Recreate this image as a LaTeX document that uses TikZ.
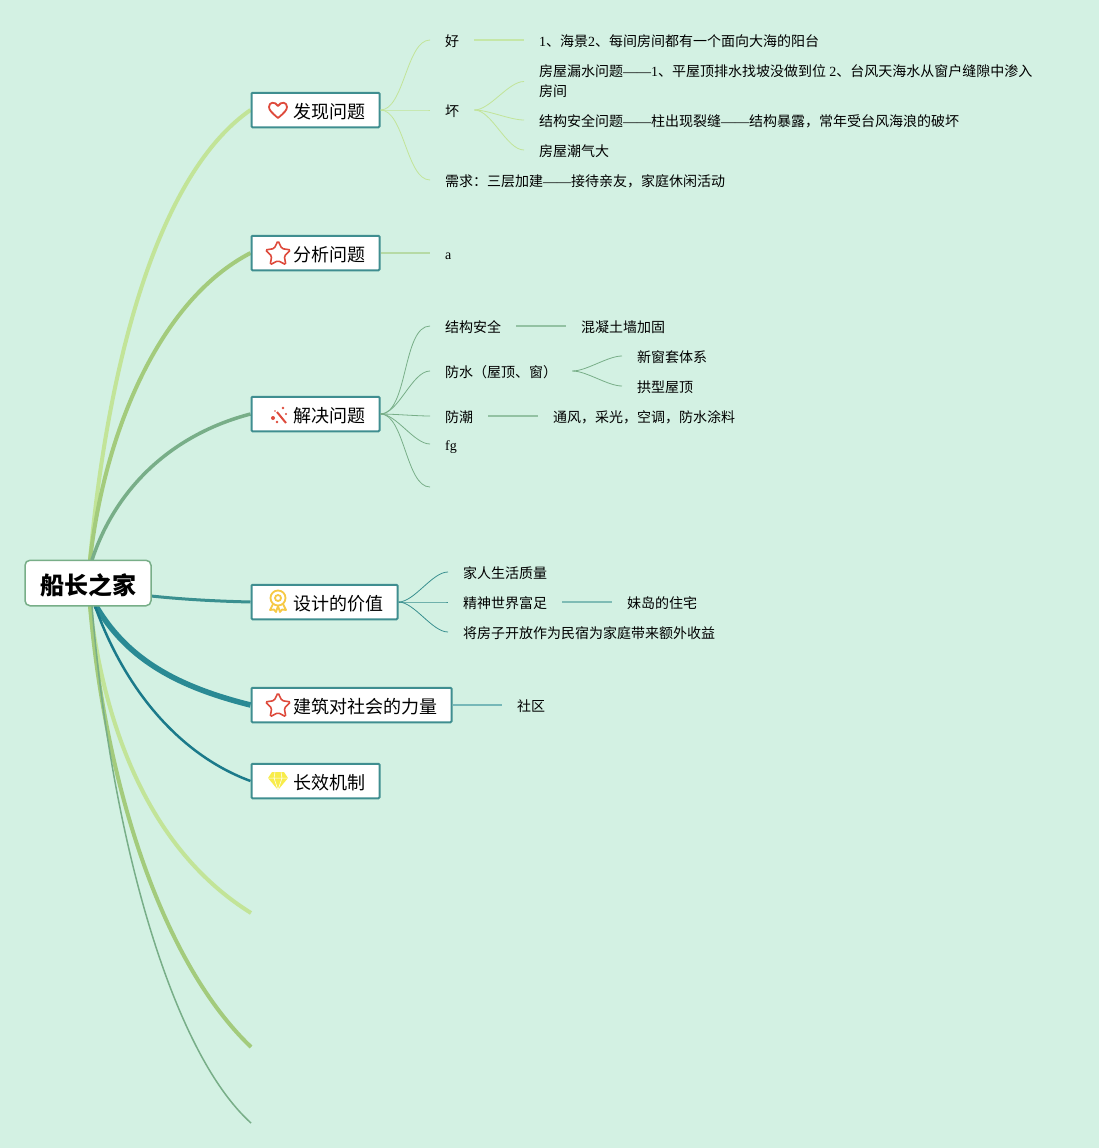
\documentclass[tikz,border=0pt]{standalone}
\usepackage{fontspec}
\setmainfont{Liberation Serif}
\newfontfamily\cjk{Noto Sans CJK SC}
\usetikzlibrary{shapes.geometric, backgrounds}
\definecolor{paper}{HTML}{D3F1E3}
\definecolor{edgeA}{HTML}{C2E498}
\definecolor{edgeB}{HTML}{A3CB7C}
\definecolor{edgeC}{HTML}{78AE88}
\definecolor{edgeD}{HTML}{3A9090}
\definecolor{edgeE}{HTML}{2A8A94}
\definecolor{edgeF}{HTML}{1B7A8A}
\definecolor{boxline}{HTML}{3F8E90}
\definecolor{iconred}{HTML}{DE4A3C}
\definecolor{icongold}{HTML}{F6C945}
\definecolor{icongem}{HTML}{F8EC4A}
\newcommand{\ltn}[1]{{\rmfamily #1}}
\newcommand{\topictext}[1]{\hspace*{27pt}#1}
\tikzset{
    rootbox/.style={draw=edgeC, line width=1.5pt, fill=white, rounded corners=5pt, minimum width=126pt, minimum height=45.5pt, inner sep=0pt, text height=23pt, text depth=1pt, font=\cjk\bfseries\fontsize{24}{28}\selectfont},
    topicbox/.style={draw=boxline, line width=2pt, fill=white, rounded corners=1pt, minimum height=34.5pt, inner sep=0pt, text height=18pt, text depth=1.4pt, font=\cjk\fontsize{18}{22}\selectfont},
    leaf/.style={anchor=west, inner xsep=15pt, inner ysep=0pt, text height=14.5pt, text depth=1pt, font=\cjk\fontsize{14}{20}\selectfont},
    fanline/.style={line width=0.8pt, looseness=0.7},
    starshape/.style={star, star points=5, star point ratio=2, draw=iconred, line width=1.6pt, rounded corners=1.5pt, minimum size=26.5pt, inner sep=0pt},
    heart/.pic={\draw[iconred, line width=1.8pt, line join=round] (0,8) .. controls (-6,3) and (-9,0) .. (-9,-3) .. controls (-9,-8) and (-3,-9) .. (0,-4) .. controls (3,-9) and (9,-8) .. (9,-3) .. controls (9,0) and (6,3) .. (0,8) -- cycle;},
    wand/.pic={\draw[iconred, line width=2pt] (-1,-3) -- (8,8);
        \fill[iconred] (5,-7) circle (1.4) (8,-1) circle (1.1) (-5,3) circle (2) (-1,7) circle (1.3) (-3,-4) circle (0.8);},
    medal/.pic={\draw[icongold, line width=1.8pt] (0,-3) circle (7.5) (0,-3) circle (3);
        \draw[icongold, line width=1.8pt, line join=round] (-5,3) -- (-8,9) -- (-4,8.5) -- (-2,11) -- (0,5) -- (2,11) -- (4,8.5) -- (8,9) -- (5,3);},
    gem/.pic={\fill[icongem] (-6,-9) -- (6,-9) -- (10,-3) -- (0,9) -- (-10,-3) -- cycle;
        \draw[white, line width=0.5pt] (-10,-3) -- (10,-3) (-3,-9) -- (-4,-3) -- (0,9) -- (4,-3) -- (3,-9);},
}
\begin{document}
\begin{tikzpicture}[x=1pt, y=-1pt]
    \useasboundingbox (0,0) rectangle (1099,1148);

    % main boxes
    \node[rootbox] (root) at (88,583) {船长之家};
    \node[topicbox, minimum width=128pt] (faxian) at (315.5,110) {\topictext{发现问题}};
    \node[topicbox, minimum width=128pt] (fenxi) at (315.5,253) {\topictext{分析问题}};
    \node[topicbox, minimum width=128pt] (jiejue) at (315.5,414) {\topictext{解决问题}};
    \node[topicbox, minimum width=146pt] (sheji) at (324.5,602) {\topictext{设计的价值}};
    \node[topicbox, minimum width=200pt] (jianzhu) at (351.5,705) {\topictext{建筑对社会的力量}};
    \node[topicbox, minimum width=128pt] (changxiao) at (315.5,781) {\topictext{长效机制}};

    % branches without a box
    \coordinate (looseA) at (251,913);
    \coordinate (looseB) at (251,1047);
    \coordinate (looseC) at (251,1123);

    % branches from the root
    \begin{scope}[on background layer]
    \fill[paper] (0,0) rectangle (1099,1148);
    \draw[edgeA, line width=4pt] (looseA) .. controls (150,850) and (105,730) .. (90,606);
    \draw[edgeB, line width=4pt] (looseB) .. controls (160,960) and (105,780) .. (90,606);
    \draw[edgeC, line width=1.5pt] (looseC) .. controls (170,1050) and (110,830) .. (92,606);
    \draw[edgeA, line width=4pt] (faxian.west) .. controls (150,180) and (105,390) .. (90,560);
    \draw[edgeB, line width=4pt] (fenxi.west) .. controls (160,300) and (105,430) .. (90,560);
    \draw[edgeC, line width=3.5pt] (jiejue.west) .. controls (170,435) and (115,490) .. (92,560);
    \draw[edgeD, line width=3pt] (sheji.west) .. controls (210,601) and (180,599) .. (151,596);
    \draw[edgeE, line width=5.5pt] (jianzhu.west) .. controls (170,685) and (125,655) .. (96,606);
    \draw[edgeF, line width=2.5pt] (changxiao.west) .. controls (180,755) and (125,690) .. (95,606);
    \end{scope}

    % icons
    \pic at (278,110) {heart};
    \node[starshape] (starB) at (278,254) {};
    \pic at (278,415) {wand};
    \pic at (278,601) {medal};
    \node[starshape] (starE) at (278,706) {};
    \pic at (278,781) {gem};

    % first topic
    \node[leaf] (hao) at (430,40) {好};
    \node[leaf] (haotxt) at (524,40) {\ltn{1}、海景\ltn{2}、每间房间都有一个面向大海的阳台};
    \node[leaf] (huai) at (430,110) {坏};
    \node[leaf, text height=, text depth=, align=left] (loushui) at (524,81.5) {房屋漏水问题\ltn{——1}、平屋顶排水找坡没做到位 \ltn{2}、台风天海水从窗户缝隙中渗入\\房间};
    \node[leaf] (jiegou) at (524,120) {结构安全问题\ltn{——}柱出现裂缝\ltn{——}结构暴露，常年受台风海浪的破坏};
    \node[leaf] (chaoqi) at (524,150) {房屋潮气大};
    \node[leaf] (xuqiu) at (430,180) {需求：三层加建\ltn{——}接待亲友，家庭休闲活动};
    \foreach \n in {hao, huai, xuqiu}
        \draw[edgeA, fanline] (faxian.east) to[out=0, in=180] (\n.west);
    \draw[edgeA!80!paper, line width=1.5pt] (hao.east) -- (haotxt.west);
    \foreach \n in {loushui, jiegou, chaoqi}
        \draw[edgeA, fanline] (huai.east) to[out=0, in=180] (\n.west);

    % second topic
    \node[leaf] (atxt) at (430,253) {\ltn{a}};
    \draw[edgeB!60!paper, line width=1.5pt] (fenxi.east) -- (atxt.west);

    % third topic
    \node[leaf] (anquan) at (430,326) {结构安全};
    \node[leaf] (hunning) at (566,326) {混凝土墙加固};
    \node[leaf] (fangshui) at (430,371) {防水（屋顶、窗）};
    \node[leaf] (xinchuang) at (622,356) {新窗套体系};
    \node[leaf] (gongxing) at (622,386) {拱型屋顶};
    \node[leaf] (fangchao) at (430,416) {防潮};
    \node[leaf] (tongfeng) at (538,416) {通风，采光，空调，防水涂料};
    \node[leaf] (fg) at (430,444) {\ltn{fg}};
    \coordinate (kong) at (430,487);
    \foreach \n in {anquan.west, fangshui.west, fangchao.west, fg.west, kong}
        \draw[edgeC, fanline] (jiejue.east) to[out=0, in=180] (\n);
    \draw[edgeC!70!paper, line width=1.5pt] (anquan.east) -- (hunning.west);
    \draw[edgeC!70!paper, line width=1.5pt] (fangchao.east) -- (tongfeng.west);
    \foreach \n in {xinchuang, gongxing}
        \draw[edgeC, fanline] (fangshui.east) to[out=0, in=180] (\n.west);

    % fourth topic
    \node[leaf] (shenghuo) at (448,572) {家人生活质量};
    \node[leaf] (jingshen) at (448,602) {精神世界富足};
    \node[leaf] (meidao) at (612,602) {妹岛的住宅};
    \node[leaf] (minsu) at (448,632) {将房子开放作为民宿为家庭带来额外收益};
    \foreach \n in {shenghuo, jingshen, minsu}
        \draw[edgeD, fanline] (sheji.east) to[out=0, in=180] (\n.west);
    \draw[edgeD!55!paper, line width=1.5pt] (jingshen.east) -- (meidao.west);

    % fifth topic
    \node[leaf] (shequ) at (502,705) {社区};
    \draw[edgeE!55!paper, line width=1.5pt] (jianzhu.east) -- (shequ.west);
\end{tikzpicture}
\end{document}
